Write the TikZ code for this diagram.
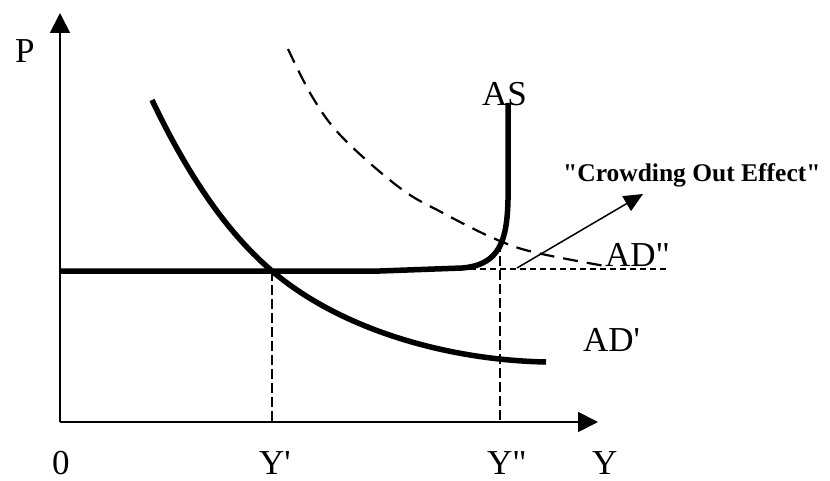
\documentclass[tikz,border=0pt]{standalone}
\usepackage{fontspec}
\setmainfont{Liberation Serif}[Ligatures=TeXOff]
\usetikzlibrary{arrows.meta}
\begin{document}
\begin{tikzpicture}[x=1pt,y=-1pt,
  axisline/.style={line width=1.8pt,-{Triangle[length=20pt,width=20pt]}},
  thickcurve/.style={line width=5.5pt},
  guide/.style={line width=1.3pt,dash pattern=on 10pt off 4pt},
  shortdash/.style={line width=2.2pt,dash pattern=on 6pt off 4pt},
  longdash/.style={line width=2.2pt,dash pattern=on 15pt off 9pt},
  pointer/.style={line width=1.5pt,-{Triangle[length=19pt,width=17pt]}},
  lbl/.style={inner sep=0pt,anchor=base west,font=\fontsize{35}{42}\selectfont},
  note/.style={inner sep=0pt,anchor=base west,font=\fontsize{25.5}{30}\selectfont\bfseries}]
\useasboundingbox (0,0) rectangle (830,481);
% named points
\coordinate (O) at (60,422);
\coordinate (ytip) at (60,13);
\coordinate (xtip) at (598,422);
\coordinate (E1) at (272,271);
\coordinate (E1b) at (272,422);
\coordinate (E2) at (500,242);
\coordinate (E2b) at (500,422);
\coordinate (hstart) at (470,269);
\coordinate (hend) at (668,269);
\coordinate (pfrom) at (517,268);
\coordinate (pto) at (643,194);
% axes
\draw[axisline] (O) -- (ytip);
\draw[axisline] (O) -- (xtip);
% guide lines
\draw[guide] (E1) -- (E1b);
\draw[guide] (E2) -- (E2b);
\draw[shortdash] (hstart) -- (hend);
% AS curve
\draw[thickcurve] (60,271) -- (380,271) -- (462,268) .. controls (500,265) and (507,240) .. (508,200) -- (508,103);
% AD' curve
\draw[thickcurve] (152,100) .. controls (192,184) and (232,237) .. (E1)
  .. controls (340,329) and (446,360) .. (546,362);
% AD'' curve
\draw[longdash] plot[smooth,tension=0.6] coordinates {(288,49) (313,98) (343,138) (400,188) (443,213) (493,238) (533,252) (605,266)};
% crowding out arrow
\draw[pointer] (pfrom) -- (pto);
% labels
\node[lbl] (lP) at (15,63) {P};
\node[lbl] (l0) at (52,474) {0};
\node[lbl] (lY1) at (259,474) {Y'};
\node[lbl] (lY2) at (487,474) {Y"};
\node[lbl] (lY) at (592,474) {Y};
\node[lbl] (lAS) at (482,106) {AS};
\node[lbl] (lAD2) at (605,266) {AD"};
\node[lbl] (lAD1) at (583,351) {AD'};
\node[note] (lcrowd) at (563,182) {"Crowding Out Effect"};
\end{tikzpicture}
\end{document}
